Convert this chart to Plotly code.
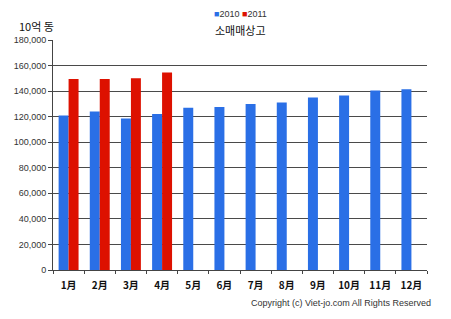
import plotly.graph_objects as go

months = ["1月", "2月", "3月", "4月", "5月", "6月", "7月", "8月", "9月", "10月", "11月", "12月"]
v2010 = [121000, 124000, 118500, 122000, 127000, 127500, 130000, 131000, 135000, 136500, 140500, 141500]
v2011 = [149500, 149500, 150000, 154500]
tickvals = [0, 20000, 40000, 60000, 80000, 100000, 120000, 140000, 160000, 180000]
c2010 = "#2A6FE6"
c2011 = "#DD1100"

fig = go.Figure()
fig.add_bar(x=months, y=v2010, name="2010", marker=dict(color=c2010, line=dict(width=0)))
fig.add_bar(x=months[:len(v2011)], y=v2011, name="2011", marker=dict(color=c2011, line=dict(width=0)))

legend_text = (f"<span style='color:{c2010}'>■</span>2010 "
               f"<span style='color:{c2011}'>■</span>2011")

fig.update_layout(
    width=451, height=319,
    margin=dict(l=53, r=24, t=40, b=49),
    paper_bgcolor="white", plot_bgcolor="white",
    barmode="group", bargap=0.36, bargroupgap=0,
    font=dict(family="Liberation Sans, Arial, sans-serif", size=9, color="#333"),
    showlegend=False,
    xaxis=dict(categoryorder="array", categoryarray=months, showline=True, linecolor="#444", linewidth=1,
               ticks="outside", tickson="boundaries", ticklen=3, tickcolor="#444", ticklabelstandoff=6,
               tickfont=dict(size=10, color="#111", family="Noto Sans CJK JP", weight="bold"), showgrid=False),
    yaxis=dict(range=[0, 180000], tickvals=tickvals, tickformat=",d", showline=True, linecolor="#444", linewidth=1,
               ticks="outside", ticklen=4, tickcolor="#444", showgrid=True, gridcolor="#4a4a4a", gridwidth=1,
               tickfont=dict(size=9, color="#333"), zeroline=False),
    annotations=[
        dict(text=legend_text, x=0.5, y=1.0, xref="paper", yref="paper", xanchor="center", yanchor="bottom",
             yshift=19, showarrow=False, font=dict(size=9, color="#333")),
        dict(text="10억 동", x=-0.043, y=1.0, xref="paper", yref="paper", xanchor="center", yanchor="bottom",
             yshift=4, showarrow=False, font=dict(size=11, color="#111", family="Noto Sans CJK KR")),
        dict(text="소매매상고", x=0.5, y=1.0, xref="paper", yref="paper", xanchor="center", yanchor="bottom", yshift=0,
             showarrow=False, font=dict(size=11, color="#111", family="Noto Sans CJK KR")),
        dict(text="Copyright (c) Viet-jo.com All Rights Reserved", x=1.0, y=0, xref="paper", yref="paper",
             xanchor="right", yanchor="top", yshift=-26, xshift=6, showarrow=False, font=dict(size=9, color="#333")),
    ],
)
fig.write_html("out.html")
